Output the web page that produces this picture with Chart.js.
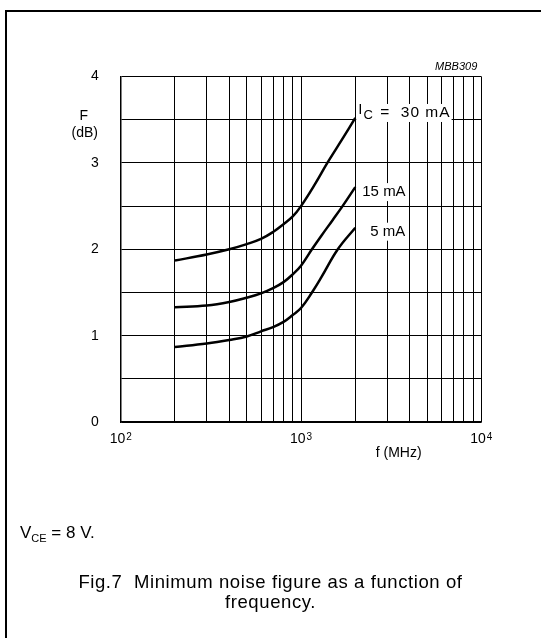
<!DOCTYPE html>
<html>
<head>
<meta charset="utf-8">
<script src="https://cdn.jsdelivr.net/npm/chart.js@4.4.1/dist/chart.umd.min.js"></script>
<style>
  html, body { margin: 0; padding: 0; background: #fff; }
  body { width: 541px; height: 638px; position: relative; overflow: hidden;
         font-family: "Liberation Sans", Arial, sans-serif; color: #000; }
  #frame { position: absolute; left: 5px; top: 10px; width: 700px; height: 800px;
           border-left: 2px solid #000; border-top: 2px solid #000; }
  #wrap { position: absolute; left: 0; top: 0; width: 541px; height: 638px; }
  .cap { position: absolute; }
  .sub { font-size: 11px; position: relative; top: 4px; letter-spacing: 0; }
  #vce { left: 20px; top: 523px; font-size: 17px; }
  #fig { left: 0; width: 541px; top: 572px; text-align: center; line-height: 20px;
         font-size: 18.5px; letter-spacing: 0.6px; }
</style>
</head>
<body>
<div id="frame"></div>
<div id="wrap"><canvas id="chart" width="541" height="638"></canvas></div>
<div class="cap" id="vce">V<span class="sub">CE</span> = 8 V.</div>
<div class="cap" id="fig">Fig.7&nbsp; Minimum noise figure as a function of<br>frequency.</div>
<script>
// frequencies (MHz) and noise figure (dB)
const freq30 = [200, 300, 400, 500, 600, 700, 800, 900, 1000, 1200, 1400, 1700, 2000];
const nf30   = [1.87, 1.94, 2.00, 2.06, 2.12, 2.20, 2.29, 2.38, 2.50, 2.76, 3.00, 3.28, 3.52];

const freq15 = [200, 300, 400, 500, 600, 700, 800, 900, 1000, 1150, 1300, 1500, 1700, 2000];
const nf15   = [1.33, 1.35, 1.39, 1.44, 1.49, 1.55, 1.62, 1.71, 1.81, 2.00, 2.16, 2.34, 2.50, 2.72];

const freq5 = [200, 300, 400, 500, 600, 700, 800, 900, 1000, 1150, 1300, 1600, 2000];
const nf5   = [0.87, 0.91, 0.95, 0.99, 1.05, 1.10, 1.16, 1.24, 1.32, 1.50, 1.68, 2.00, 2.25];

const curveNames = ["30 mA", "15 mA", "5 mA"];

// grid / tick values
const xGrid = [100, 200, 300, 400, 500, 600, 700, 800, 900,
               1000, 2000, 3000, 4000, 5000, 6000, 7000, 8000, 9000, 10000];
const xDecades = [100, 1000, 10000];
const xExponents = ["2", "3", "4"];
const yTickLabels = [0, 1, 2, 3, 4];

const FONT = '"Liberation Sans", Arial, sans-serif';

function pairs(xs, ys) {
  return xs.map((x, i) => ({ x: x, y: ys[i] }));
}

const series = [pairs(freq30, nf30), pairs(freq15, nf15), pairs(freq5, nf5)];

// label placement next to the end of each curve
const labelOffsets = [[3, -5], [7, 5], [15, 4]];

const extraText = {
  id: "extraText",
  afterDatasetsDraw(chart) {
    const ctx = chart.ctx;
    const area = chart.chartArea;
    const xs = chart.scales.x, ys = chart.scales.y;
    ctx.save();
    ctx.fillStyle = "#000";
    ctx.textBaseline = "middle";
    ctx.textAlign = "left";

    // curve labels with white backing
    series.forEach((pts, i) => {
      const last = pts[pts.length - 1];
      const px = xs.getPixelForValue(last.x) + labelOffsets[i][0];
      const py = ys.getPixelForValue(last.y) + labelOffsets[i][1];
      ctx.font = "15px " + FONT;
      if (i === 0) {
        const rest = " =  " + curveNames[0];
        const wI = ctx.measureText("I").width;
        ctx.font = "13px " + FONT;
        const wC = ctx.measureText("C").width;
        ctx.font = "15.5px " + FONT;
        const wR = ctx.measureText(rest).width + 8;
        ctx.fillStyle = "#fff";
        ctx.fillRect(px - 2, py - 9, wI + wC + 3 + wR + 4, 18);
        ctx.fillStyle = "#000";
        ctx.font = "15px " + FONT;
        ctx.fillText("I", px, py - 3);
        ctx.font = "13px " + FONT;
        ctx.fillText("C", px + wI + 1, py + 2);
        ctx.font = "15.5px " + FONT;
        ctx.letterSpacing = "1px";
        ctx.fillText(rest, px + wI + wC + 3, py);
        ctx.letterSpacing = "0px";
      } else {
        const w = ctx.measureText(curveNames[i]).width;
        ctx.fillStyle = "#fff";
        ctx.fillRect(px - 2, py - 9, w + 4, 18);
        ctx.fillStyle = "#000";
        ctx.fillText(curveNames[i], px, py);
      }
    });

    // x tick labels: 10 with raised exponent
    ctx.textBaseline = "alphabetic";
    xDecades.forEach((v, i) => {
      const px = xs.getPixelForValue(v);
      ctx.font = "14px " + FONT;
      const wBase = ctx.measureText("10").width;
      ctx.font = "10px " + FONT;
      const wExp = ctx.measureText(xExponents[i]).width;
      const left = px - (wBase + 1 + wExp) / 2;
      ctx.font = "14px " + FONT;
      ctx.fillText("10", left, area.bottom + 21);
      ctx.font = "10px " + FONT;
      ctx.fillText(xExponents[i], left + wBase + 1, area.bottom + 18);
    });

    // axis titles
    ctx.textBaseline = "middle";
    ctx.textAlign = "center";
    ctx.font = "14px " + FONT;
    ctx.fillText("F", area.left - 37, area.top + 40);
    ctx.fillText("(dB)", area.left - 36, area.top + 57);
    ctx.fillText("f (MHz)", area.left + 278, area.bottom + 31);

    ctx.textAlign = "right";
    ctx.font = "italic 11px " + FONT;
    ctx.fillText("MBB309", area.right - 4, area.top - 10);
    ctx.restore();
  }
};

const ctx = document.getElementById("chart").getContext("2d");

new Chart(ctx, {
  type: "line",
  data: {
    datasets: series.map((pts, i) => ({
      label: curveNames[i],
      data: pts,
      borderColor: "#000",
      backgroundColor: "#000",
      borderWidth: 2.5,
      pointRadius: 0,
      fill: false,
      tension: 0.4
    }))
  },
  options: {
    responsive: false,
    animation: false,
    devicePixelRatio: 1,
    layout: { padding: { top: 76.5, right: 59.7, left: 80.7, bottom: 185.9 } },
    plugins: { legend: { display: false }, tooltip: { enabled: false } },
    scales: {
      x: {
        type: "logarithmic",
        min: 100,
        max: 10000,
        afterBuildTicks(scale) {
          scale.ticks = xGrid.map(v => ({ value: v }));
        },
        afterFit(scale) { scale.height = 30; },
        grid: { color: "#000", lineWidth: 1, drawTicks: false },
        border: { color: "#000", width: 1.5 },
        ticks: { display: false, autoSkip: false }
      },
      y: {
        min: 0,
        max: 4,
        afterFit(scale) { scale.width = 40; },
        grid: { color: "#000", lineWidth: 1, drawTicks: false },
        border: { color: "#000", width: 1.5 },
        ticks: {
          stepSize: 0.5,
          autoSkip: false,
          padding: 22,
          color: "#000",
          font: { family: FONT, size: 14 },
          callback: v => (yTickLabels.includes(v) ? String(v) : "")
        }
      }
    }
  },
  plugins: [extraText]
});
</script>
</body>
</html>
